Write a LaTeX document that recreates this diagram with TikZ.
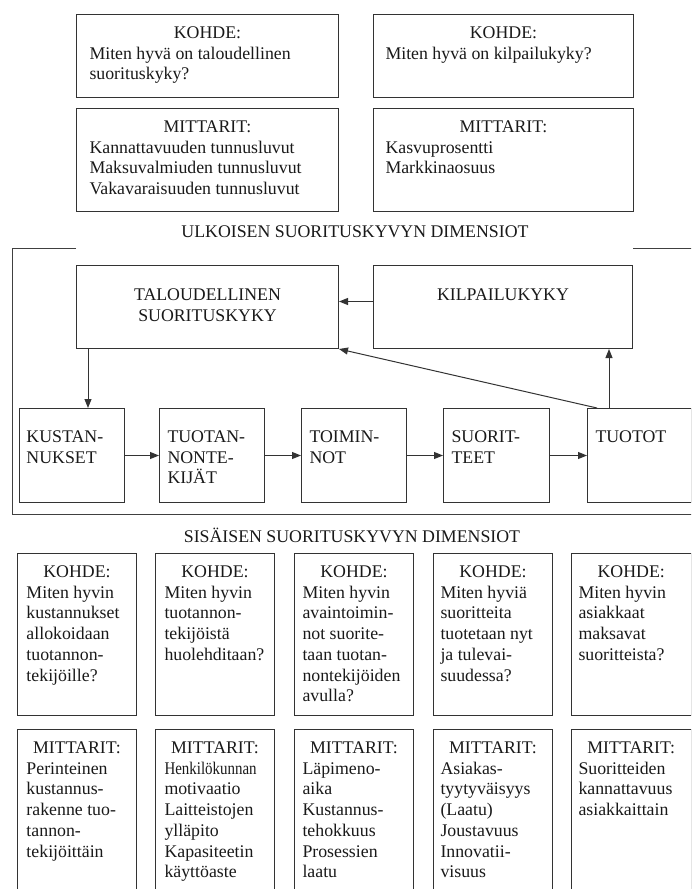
\documentclass[tikz,border=0pt]{standalone}
\usepackage{fontspec}
\usepackage{graphicx}
\setmainfont{Liberation Serif}
\usetikzlibrary{arrows.meta}
\newcommand{\bbox}[4]{\parbox[c][#2][t]{#1}{\raggedright\leftskip=#3 #4}}
\newcommand{\hdl}[2]{{\centering\rule{0pt}{#1}#2\par}}
\newcommand{\fl}[1]{\rule{0pt}{#1}}
\newcommand{\fsz}{\fontsize{17.8}{20.7}\selectfont}
\begin{document}
\begin{tikzpicture}[x=1pt,y=-1pt,
  box/.style={draw=black!80, line width=1pt, anchor=north west, inner sep=0pt, font=\fsz, text=black!90},
  conn/.style={draw=black!80, line width=1pt, -{Triangle[length=9pt,width=7pt]}},
  frame/.style={draw=black!75, line width=1pt},
  ttl/.style={font=\fsz, text=black!90, anchor=base, inner sep=0pt}]
\useasboundingbox (0,0) rectangle (691,889);
\clip (0,0) rectangle (691,889);
% top boxes
\node[box] (ka) at (76,14) {\bbox{262pt}{83pt}{13pt}{\hdl{24pt}{KOHDE:}Miten hyvä on taloudellinen\\suorituskyky?}};
\node[box] (kb) at (373,14) {\bbox{260pt}{83pt}{12pt}{\hdl{24pt}{KOHDE:}Miten hyvä on kilpailukyky?}};
\node[box] (ma) at (76,108) {\bbox{262pt}{103pt}{13pt}{\hdl{24pt}{MITTARIT:}Kannattavuuden tunnusluvut\\Maksuvalmiuden tunnusluvut\\Vakavaraisuuden tunnusluvut}};
\node[box] (mb) at (373,108) {\bbox{260pt}{103pt}{12pt}{\hdl{24pt}{MITTARIT:}Kasvuprosentti\\Markkinaosuus}};
\node[ttl] (t1) at (355,237) {ULKOISEN SUORITUSKYVYN DIMENSIOT};
% frame
\draw[frame] (76,248) -- (12,248) -- (12,514) -- (700,514);
\draw[frame] (633,248) -- (700,248);
% middle
\node[box] (tal) at (76,265) {\bbox{262pt}{83pt}{0pt}{\hdl{35pt}{TALOUDELLINEN\\SUORITUSKYKY}}};
\node[box] (kil) at (373,265) {\bbox{259pt}{83pt}{0pt}{\hdl{35pt}{KILPAILUKYKY}}};
\node[box] (kus) at (19,408) {\bbox{105pt}{94pt}{7pt}{\fl{34pt}KUSTAN-\\NUKSET}};
\node[box] (tuo) at (159,408) {\bbox{105pt}{94pt}{8pt}{\fl{34pt}TUOTAN-\\NONTE-\\KIJÄT}};
\node[box] (toi) at (301,408) {\bbox{105pt}{94pt}{8pt}{\fl{34pt}TOIMIN-\\NOT}};
\node[box] (suo) at (443,408) {\bbox{106pt}{94pt}{8pt}{\fl{34pt}SUORIT-\\TEET}};
\node[box] (tuot) at (587,408) {\bbox{103.5pt}{94pt}{8pt}{\fl{34pt}TUOTOT}};
\draw[conn] ([yshift=5.5pt]kil.west) -- ([yshift=5.5pt]tal.west -| tal.east);
\draw[conn] ([xshift=12pt]tal.south west) -- ([xshift=12pt]tal.south west |- kus.north);
\draw[conn] (kus.east) -- (tuo.west);
\draw[conn] (tuo.east) -- (toi.west);
\draw[conn] (toi.east) -- (suo.west);
\draw[conn] (suo.east) -- (tuot.west);
\draw[conn] ([xshift=22pt]tuot.north west) -- ([xshift=22pt]tuot.north west |- kil.south);
\draw[conn] ([xshift=10pt]tuot.north west) -- (tal.south east);
% bottom
\node[ttl] (t2) at (352,542) {SISÄISEN SUORITUSKYVYN DIMENSIOT};
\node[box] (k1) at (17,553) {\bbox{119pt}{162pt}{9pt}{\hdl{24pt}{KOHDE:}Miten hyvin\\kustannukset\\allokoidaan\\tuotannon-\\tekijöille?}};
\node[box] (k2) at (155,553) {\bbox{119pt}{162pt}{9pt}{\hdl{24pt}{KOHDE:}Miten hyvin\\tuotannon-\\tekijöistä\\huolehditaan?}};
\node[box] (k3) at (294,553) {\bbox{119pt}{162pt}{8pt}{\hdl{24pt}{KOHDE:}Miten hyvin\\avaintoimin-\\not suorite-\\taan tuotan-\\nontekijöiden\\avulla?}};
\node[box] (k4) at (433,553) {\bbox{119pt}{162pt}{7pt}{\hdl{24pt}{KOHDE:}Miten hyviä\\suoritteita\\tuotetaan nyt\\ja tulevai-\\suudessa?}};
\node[box] (k5) at (571,553) {\bbox{119.5pt}{162pt}{7pt}{\hdl{24pt}{KOHDE:}Miten hyvin\\asiakkaat\\maksavat\\suoritteista?}};
\node[box] (m1) at (17,729) {\bbox{119pt}{200pt}{9pt}{\hdl{24pt}{MITTARIT:}Perinteinen\\kustannus-\\rakenne tuo-\\tannon-\\tekijöittäin}};
\node[box] (m2) at (155,729) {\bbox{119pt}{200pt}{9pt}{\hdl{24pt}{MITTARIT:}\scalebox{0.84}[1]{Henkilökunnan}\\motivaatio\\Laitteistojen\\ylläpito\\Kapasiteetin\\käyttöaste}};
\node[box] (m3) at (294,729) {\bbox{119pt}{200pt}{8pt}{\hdl{24pt}{MITTARIT:}Läpimeno-\\aika\\Kustannus-\\tehokkuus\\Prosessien\\laatu}};
\node[box] (m4) at (433,729) {\bbox{119pt}{200pt}{7pt}{\hdl{24pt}{MITTARIT:}Asiakas-\\tyytyväisyys\\(Laatu)\\Joustavuus\\Innovatii-\\visuus}};
\node[box] (m5) at (571,729) {\bbox{119.5pt}{200pt}{7pt}{\hdl{24pt}{MITTARIT:}Suoritteiden\\kannattavuus\\asiakkaittain}};
\end{tikzpicture}
\end{document}
